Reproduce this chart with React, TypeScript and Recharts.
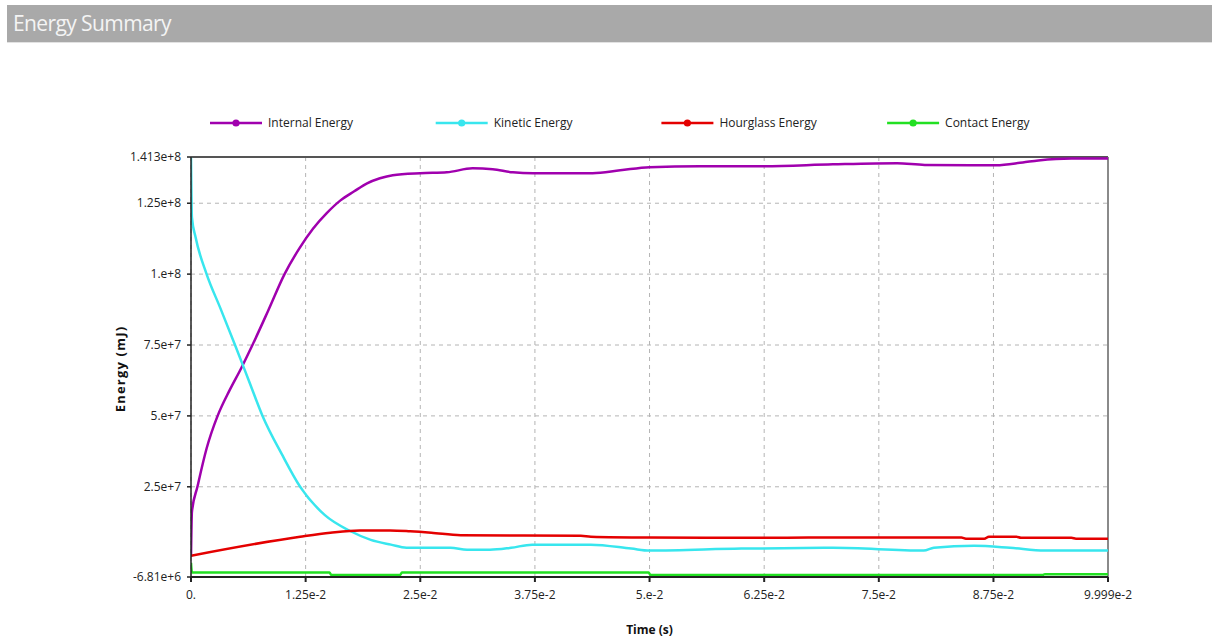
import React from "react";
import {
  LineChart,
  Line,
  XAxis,
  YAxis,
  CartesianGrid,
  ReferenceLine,
  Label,
} from "recharts";

// Time (s) / energy (mJ) samples for each energy component
const internalEnergy: [number, number][] = [
  [0, 3e5],
  [0.0001, 1.62e7],
  [0.0007, 2.5e7],
  [0.0017, 3.85e7],
  [0.0029, 5.0e7],
  [0.0042, 5.9e7],
  [0.0055, 6.7e7],
  [0.0067, 7.5e7],
  [0.0084, 8.7e7],
  [0.0102, 1.0e8],
  [0.0118, 1.09e8],
  [0.0133, 1.16e8],
  [0.0148, 1.215e8],
  [0.0163, 1.26e8],
  [0.0178, 1.292e8],
  [0.0192, 1.32e8],
  [0.0206, 1.338e8],
  [0.022, 1.349e8],
  [0.025, 1.356e8],
  [0.0279, 1.359e8],
  [0.0307, 1.373e8],
  [0.0329, 1.37e8],
  [0.0351, 1.359e8],
  [0.0373, 1.356e8],
  [0.0438, 1.356e8],
  [0.0468, 1.366e8],
  [0.05, 1.377e8],
  [0.0555, 1.38e8],
  [0.0625, 1.38e8],
  [0.07, 1.387e8],
  [0.077, 1.391e8],
  [0.08, 1.385e8],
  [0.0878, 1.384e8],
  [0.0907, 1.394e8],
  [0.0924, 1.401e8],
  [0.096, 1.408e8],
  [0.09999, 1.408e8],
];

const kineticEnergy: [number, number][] = [
  [0, 1.41e8],
  [0.0001, 1.2e8],
  [0.0005, 1.13e8],
  [0.0017, 1.0e8],
  [0.0032, 8.8e7],
  [0.0048, 7.5e7],
  [0.0063, 6.25e7],
  [0.0078, 5.0e7],
  [0.0099, 3.65e7],
  [0.0119, 2.5e7],
  [0.0146, 1.5e7],
  [0.0173, 9.5e6],
  [0.0196, 6.3e6],
  [0.0218, 4.6e6],
  [0.0235, 3.5e6],
  [0.0283, 3.5e6],
  [0.0301, 2.8e6],
  [0.0326, 2.8e6],
  [0.0349, 3.5e6],
  [0.0372, 4.6e6],
  [0.0436, 4.6e6],
  [0.048, 3.2e6],
  [0.05, 2.5e6],
  [0.06, 3.2e6],
  [0.07, 3.5e6],
  [0.0799, 2.5e6],
  [0.081, 3.5e6],
  [0.0854, 4.2e6],
  [0.0893, 3.5e6],
  [0.0931, 2.5e6],
  [0.09999, 2.5e6],
];

const hourglassEnergy: [number, number][] = [
  [0, 7e5],
  [0.0119, 7.4e6],
  [0.0152, 8.8e6],
  [0.0184, 9.6e6],
  [0.0217, 9.6e6],
  [0.0239, 9.3e6],
  [0.0262, 8.8e6],
  [0.0294, 7.9e6],
  [0.0425, 7.7e6],
  [0.0436, 7.4e6],
  [0.05, 7.1e6],
  [0.06, 7.0e6],
  [0.07, 7.1e6],
  [0.084, 7.1e6],
  [0.0845, 6.7e6],
  [0.0865, 6.7e6],
  [0.087, 7.4e6],
  [0.09, 7.4e6],
  [0.0905, 7.0e6],
  [0.096, 7.0e6],
  [0.0965, 6.7e6],
  [0.09999, 6.7e6],
];

const contactEnergy: [number, number][] = [
  [0, -1.8e6],
  [0.0001, -5.2e6],
  [0.0151, -5.2e6],
  [0.0153, -6.1e6],
  [0.0228, -6.1e6],
  [0.023, -5.2e6],
  [0.0499, -5.2e6],
  [0.0501, -6.1e6],
  [0.0929, -6.1e6],
  [0.0931, -5.8e6],
  [0.09999, -5.8e6],
];

const xTicks = [0, 0.0125, 0.025, 0.0375, 0.05, 0.0625, 0.075, 0.0875, 0.09999];
const xTickLabels = ["0.", "1.25e-2", "2.5e-2", "3.75e-2", "5.e-2", "6.25e-2", "7.5e-2", "8.75e-2", "9.999e-2"];
const yTicks = [-6.81e6, 2.5e7, 5e7, 7.5e7, 1e8, 1.25e8, 1.413e8];
const yTickLabels = ["-6.81e+6", "2.5e+7", "5.e+7", "7.5e+7", "1.e+8", "1.25e+8", "1.413e+8"];

const series = [
  { key: "internal", name: "Internal Energy", color: "#a000ae", points: internalEnergy },
  { key: "kinetic", name: "Kinetic Energy", color: "#38e6ee", points: kineticEnergy },
  { key: "hourglass", name: "Hourglass Energy", color: "#e40000", points: hourglassEnergy },
  { key: "contact", name: "Contact Energy", color: "#22e022", points: contactEnergy },
];

const FONT = "'Open Sans', 'Noto Sans', sans-serif";

const toRows = (pts: [number, number][]) => pts.map(([t, v]) => ({ t, v }));

function ChartLegend() {
  const startX = 210;
  const step = 225.7;
  const lineLen = 52;
  return (
    <svg
      width={1212}
      height={30}
      style={{ position: "absolute", left: 0, top: 108 }}
    >
      {series.map((s, i) => {
        const x = startX + i * step;
        const y = 15;
        return (
          <g key={s.key}>
            <line x1={x} y1={y} x2={x + lineLen} y2={y} stroke={s.color} strokeWidth={2.5} />
            <circle cx={x + lineLen / 2} cy={y} r={3.6} fill={s.color} />
            <text
              x={x + lineLen + 6}
              y={y}
              dy="0.35em"
              fontFamily={FONT}
              fontSize={12}
              fill="#222"
            >
              {s.name}
            </text>
          </g>
        );
      })}
    </svg>
  );
}

function YAxisTitle(props: any) {
  const vb = props.viewBox || {};
  const cx = 120;
  const cy = vb.y + vb.height / 2 + 2;
  return (
    <text
      x={cx}
      y={cy}
      transform={`rotate(-90 ${cx} ${cy})`}
      textAnchor="middle"
      dominantBaseline="central"
      fontFamily={FONT}
      fontSize={13}
      fontWeight={700}
      letterSpacing={1.2}
      fill="#111"
    >
      Energy (mJ)
    </text>
  );
}

function XAxisTitle(props: any) {
  const vb = props.viewBox || {};
  const cx = vb.x + vb.width / 2;
  return (
    <text
      x={cx}
      y={634}
      textAnchor="middle"
      fontFamily={FONT}
      fontSize={12}
      fontWeight={700}
      fill="#111"
    >
      Time (s)
    </text>
  );
}

export default function App() {
  return (
    <div
      style={{
        position: "absolute",
        left: 0,
        top: 0,
        width: 1212,
        height: 639,
        background: "#fff",
        overflow: "hidden",
      }}
    >
      <div
        style={{
          position: "absolute",
          left: 7,
          top: 5,
          width: 1205,
          height: 37,
          background: "#a9a9a9",
          borderBottom: "1px solid #e2e2e2",
        }}
      >
        <span
          style={{
            position: "absolute",
            left: 6,
            top: 3,
            fontFamily: FONT,
            fontSize: 21,
            color: "#f4f4f4",
            letterSpacing: -0.6,
            lineHeight: "30px",
          }}
        >
          Energy Summary
        </span>
      </div>

      <ChartLegend />

      <div style={{ position: "absolute", left: 0, top: 0 }}>
        <LineChart
          width={1212}
          height={639}
          margin={{ top: 157, right: 104, bottom: 32, left: 121 }}
        >
          <CartesianGrid stroke="#b4b4b4" strokeDasharray="4 4" />
          <XAxis
            dataKey="t"
            type="number"
            domain={[0, 0.09999]}
            ticks={xTicks}
            allowDataOverflow
            height={30}
            tickSize={5}
            tickMargin={8}
            stroke="#222"
            strokeWidth={2}
            tick={{ fontFamily: FONT, fontSize: 12, fill: "#222" }}
            tickFormatter={(v: number) => {
              const i = xTicks.findIndex((t) => Math.abs(t - v) < 1e-9);
              return i >= 0 ? xTickLabels[i] : "";
            }}
          >
            <Label content={<XAxisTitle />} />
          </XAxis>
          <YAxis
            dataKey="v"
            type="number"
            domain={[-6.81e6, 1.413e8]}
            ticks={yTicks}
            allowDataOverflow
            width={70}
            tickSize={4}
            tickMargin={6}
            stroke="#222"
            strokeWidth={1.5}
            tick={{ fontFamily: FONT, fontSize: 12, fill: "#222" }}
            tickFormatter={(v: number) => {
              const i = yTicks.findIndex((t) => Math.abs(t - v) < 1);
              return i >= 0 ? yTickLabels[i] : "";
            }}
          >
            <Label content={<YAxisTitle />} />
          </YAxis>
          <ReferenceLine y={1.413e8} stroke="#555" strokeWidth={2} />
          <ReferenceLine x={0.09999} stroke="#8a8a8a" strokeWidth={2} />
          {series.map((s) => (
            <Line
              key={s.key}
              data={toRows(s.points)}
              dataKey="v"
              name={s.name}
              type="monotone"
              stroke={s.color}
              strokeWidth={2.5}
              dot={false}
              activeDot={false}
              isAnimationActive={false}
            />
          ))}
        </LineChart>
      </div>
    </div>
  );
}
